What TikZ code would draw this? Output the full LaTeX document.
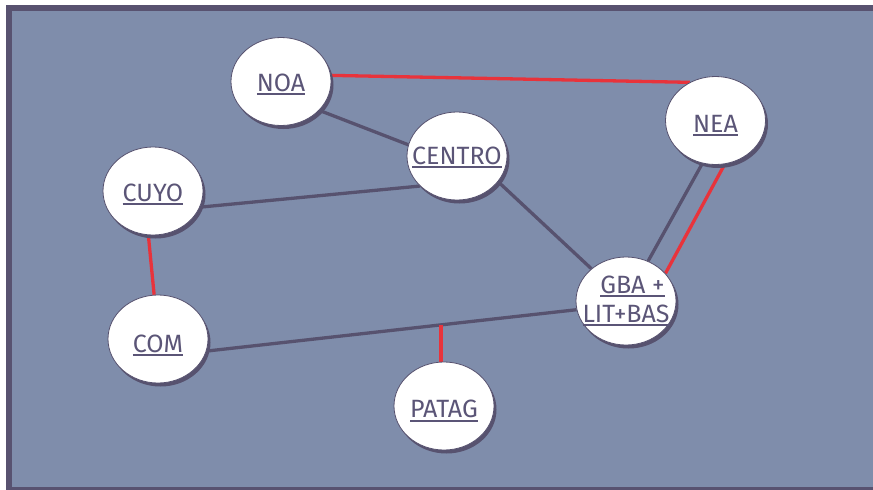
\documentclass[tikz,border=0pt]{standalone}
\usepackage{fontspec}
\setmainfont{Fira Sans}
\usetikzlibrary{shapes.geometric}
\definecolor{bgc}{HTML}{7F8DAB}
\definecolor{framec}{HTML}{585270}
\definecolor{darkc}{HTML}{57526F}
\definecolor{redc}{HTML}{E8333B}
\definecolor{txtc}{HTML}{5B5577}
\pgfdeclarelayer{bottom}
\pgfdeclarelayer{edges}
\pgfsetlayers{bottom,edges,main}
\newcommand\ulx[1]{\setbox0\hbox{#1}\leavevmode\rlap{\rule[-4.3pt]{\wd0}{2pt}}\box0}
% #1 = baseline offset below node centre, #2 = horizontal shift
\newcommand\lbl[3][0pt]{\smash{\makebox[0pt]{\hspace*{#1}\raisebox{-#2}{\ulx{#3}}}}}
\tikzset{
  region/.style={ellipse, draw=darkc, line width=0.8pt, fill=white,
    minimum width=100pt, minimum height=88pt, inner sep=0pt,
    text=txtc, font=\fontsize{25}{29}\selectfont,
    preaction={fill=darkc, transform canvas={shift={(2.5pt,-3.5pt)}}}},
  darkedge/.style={draw=darkc, line width=3.3pt},
  rededge/.style={draw=redc, line width=3.3pt}
}
\begin{document}
\begin{tikzpicture}[x=1pt,y=-1pt]
\useasboundingbox (0,0) rectangle (873,490);
\begin{pgfonlayer}{bottom}
\fill[white] (0,0) rectangle (873,490);
\fill[framec] (6,5) rectangle (873,490);
\fill[bgc] (12,11) rectangle (873,487);
\end{pgfonlayer}

\node[region] (noa) at (281,81.5) {\lbl{9.5pt}{NOA}};
\node[region] (nea) at (715.5,120.5) {\lbl{11.5pt}{NEA}};
\node[region] (centro) at (457,156) {\lbl{8pt}{CENTRO}};
\node[region] (cuyo) at (153,191) {\lbl{10pt}{CUYO}};
\node[region] (com) at (158,339) {\lbl{13pt}{COM}};
\node[region] (gba) at (626,301) {\lbl[13pt]{-8pt}{GBA +}\lbl{21pt}{LIT+BAS}};
\node[region] (patag) at (444,406) {\lbl{11.5pt}{PATAG}};

\begin{pgfonlayer}{edges}
\draw[rededge] (noa.7) -- (nea.124);
\draw[darkedge] (noa.-37) -- (centro.167);
\draw[darkedge] (cuyo.-19) -- (centro.-141);
\draw[darkedge] (centro.-32) -- (gba.137);
\draw[darkedge] (nea.-107) -- (gba.61);
\draw[rededge] (nea.-78) -- (gba.35);
\draw[rededge] (cuyo.-96) -- (com.95);
\draw[darkedge] (com.-14) -- (gba.190) coordinate[pos=0.632] (j);
\draw[rededge] (patag.94) -- (patag.94 |- j);
\end{pgfonlayer}
\end{tikzpicture}
\end{document}
